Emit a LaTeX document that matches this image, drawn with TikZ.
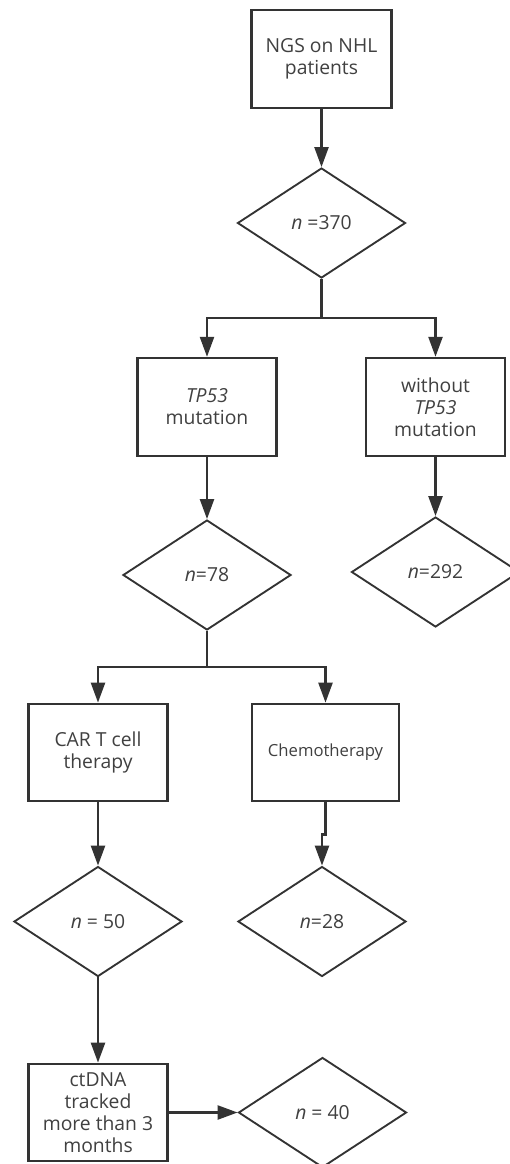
\documentclass[tikz,border=0pt]{standalone}
\usepackage{fontspec}
\setmainfont{Open Sans}
\usetikzlibrary{shapes.geometric,arrows.meta}

\definecolor{flowline}{HTML}{333333}
\definecolor{flowtext}{HTML}{404040}

\tikzset{every picture/.style={line width=0.75pt}}
\tikzset{
  procbox/.style={draw=flowline, line width=1.8pt, rectangle, minimum width=104.25pt, minimum height=73pt, align=center, text=flowtext, font=\fontsize{14.5}{16.5}\selectfont, inner sep=0.75pt},
  countbox/.style={draw=flowline, line width=1.4pt, diamond, minimum width=126pt, minimum height=82.5pt, text=flowtext, font=\fontsize{14.5}{16.5}\selectfont, inner sep=0.75pt},
  flowarrow/.style={draw=flowline, line width=1.8pt, -{Triangle[length=15pt,width=10.5pt]}},
}

\begin{document}
\begin{tikzpicture}[x=0.75pt,y=0.75pt,yscale=-1,xscale=1]
			%set diagram size: 510 x 1164
			\useasboundingbox (0,0) rectangle (510,1164);
			
			%Flowchart: Process
			\node [procbox, minimum width=105pt, minimum height=73.5pt] (ngs) at (321.5,59) {NGS on NHL\\patients};
			%Flowchart: Decision
			\node [countbox] (d370) at (321.5,223) {{\itshape n} =370};
			%Flowchart: Process
			\node [procbox, minimum height=73.5pt] (tp) at (207,407) {{\itshape TP53}\\mutation};
			%Flowchart: Process
			\node [procbox, minimum height=73.5pt] (notp) at (435.5,407) {without\\{\itshape TP53}\\mutation};
			%Flowchart: Decision
			\node [countbox] (d78) at (207,575) {{\itshape n}=78};
			%Flowchart: Decision
			\node [countbox] (d292) at (435.5,572) {{\itshape n}=292};
			%Flowchart: Process
			\node [procbox] (car) at (98,752.5) {CAR T cell\\therapy};
			%Flowchart: Process
			\node [procbox, minimum width=110.25pt, font=\fontsize{12.5}{15}\selectfont] (chemo) at (325.5,752.5) {Chemotherapy};
			%Flowchart: Decision
			\node [countbox] (d50) at (98,921.5) {{\itshape n} = 50};
			%Flowchart: Decision
			\node [countbox] (d28) at (322,921.5) {{\itshape n}=28};
			%Flowchart: Process
			\node [procbox] (ctdna) at (98,1112.5) {ctDNA\\tracked\\more than 3\\months};
			%Flowchart: Decision
			\node [countbox] (d40) at (322.5,1112.5) {{\itshape n} = 40};
			
			%branch points
			\coordinate (br1) at (321.5,318);
			\coordinate (br2) at (207,667);
			
			%Connectors
			\draw [flowarrow] (ngs) -- (d370);
			\draw [draw=flowline, line width=1.8pt] (d370.south) -- (br1);
			\draw [flowarrow] (br1) -| (tp.north);
			\draw [flowarrow] (br1) -| (notp.north);
			\draw [flowarrow] (tp) -- (d78);
			\draw [flowarrow] (notp) -- (d292);
			\draw [draw=flowline, line width=1.8pt] (d78.south) -- (br2);
			\draw [flowarrow] (br2) -| (car.north);
			\draw [flowarrow] (br2) -| (chemo.north);
			\draw [flowarrow] (car) -- (d50);
			\draw [flowarrow] (chemo.south) -- ++(0,32) -| (d28.north);
			\draw [flowarrow] (d50.south) -- (ctdna.north);
			\draw [flowarrow] (ctdna.east) -- (d40.west);
\end{tikzpicture}
\end{document}
